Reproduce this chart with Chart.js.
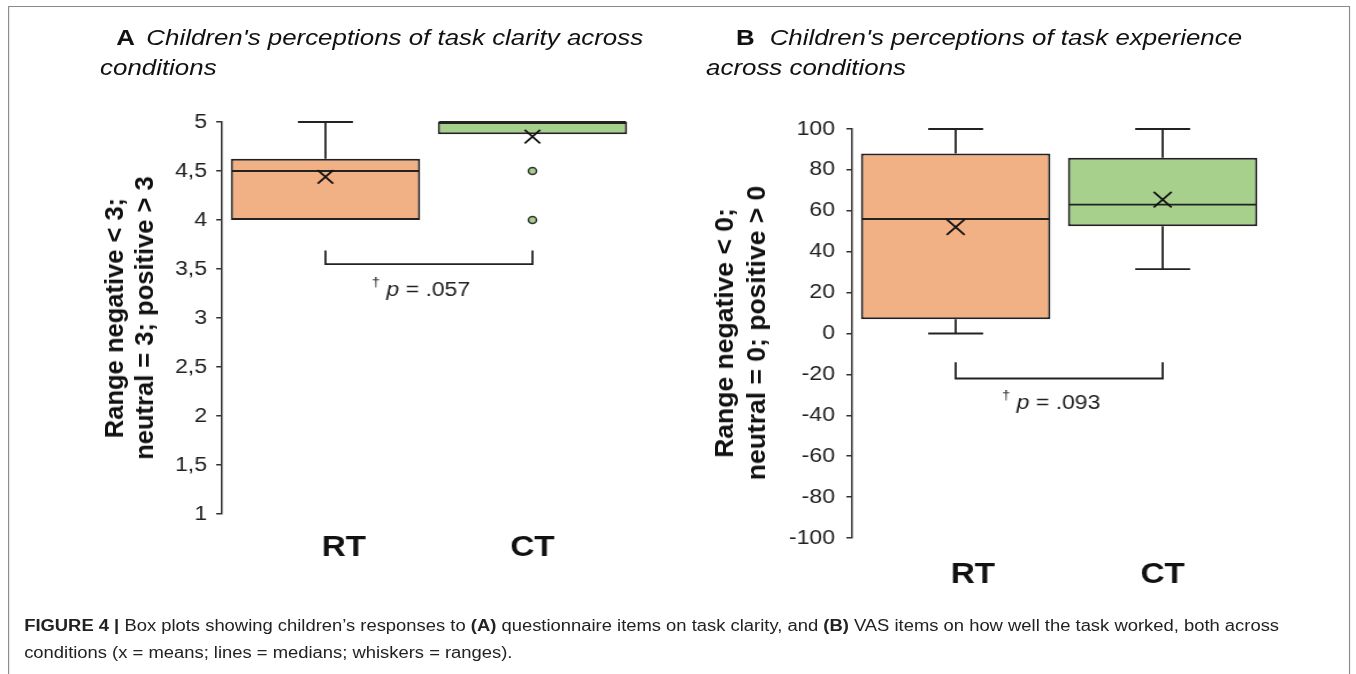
<!DOCTYPE html>
<html>
<head>
<meta charset="utf-8">
<script src="https://cdn.jsdelivr.net/npm/chart.js@4.4.1/dist/chart.umd.min.js"></script>
<style>
  body { margin: 0; background: #fff; font-family: "Liberation Sans", Arial, sans-serif; overflow: hidden; }
  /* the source figure is slightly stretched horizontally, so the whole page is drawn narrower and scaled */
  #page { position: absolute; left: 0; top: 0; width: 1179px; height: 674px; transform: scaleX(1.15); transform-origin: 0 0; }
  #frame { position: absolute; left: 7px; top: 6px; width: 1165px; height: 720px; border: 1.5px solid #8a8a8a; }
  .title { position: absolute; font-size: 22.5px; line-height: 30px; color: #111; font-style: italic; white-space: nowrap; }
  .title b { font-style: normal; }
  canvas { position: absolute; }
  #caption { position: absolute; left: 21px; top: 612px; font-size: 16px; line-height: 27px; color: #222; white-space: nowrap; }
  /* rotated axis titles are not stretched in the source, so they sit outside #page */
  .ytitle { position: absolute; transform: translate(-50%, -50%) rotate(-90deg); white-space: nowrap; text-align: center; font-weight: bold; color: #111; }
</style>
</head>
<body>
<div id="page">
<div id="frame"></div>
<div class="title" style="left:87px; top:23px;"><b style="margin-left:14px; margin-right:10px;">A</b>Children's perceptions of task clarity across<br>conditions</div>
<div class="title" style="left:614px; top:23px;"><b style="margin-left:26px; margin-right:13px;">B</b>Children's perceptions of task experience<br>across conditions</div>
<canvas id="chartA" width="530" height="480" style="left:50px; top:100px;"></canvas>
<canvas id="chartB" width="540" height="500" style="left:600px; top:100px;"></canvas>
<div id="caption"><b>FIGURE 4 |</b> Box plots showing children’s responses to <b>(A)</b> questionnaire items on task clarity, and <b>(B)</b> VAS items on how well the task worked, both across<br>conditions (x = means; lines = medians; whiskers = ranges).</div>
</div>
<div class="ytitle" style="left:129px; top:318px; font-size:25.5px; line-height:30px;">Range negative &lt; 3;<br>neutral = 3; positive &gt; 3</div>
<div class="ytitle" style="left:740px; top:333px; font-size:26.5px; line-height:32px;">Range negative &lt; 0;<br>neutral = 0; positive &gt; 0</div>

<script>
const groups = ["RT", "CT"];

// A: task clarity (1-5)
const clarityMin = [4, 4.875];
const clarityQ1 = [4, 4.875];
const clarityMedian = [4.5, 5];
const clarityQ3 = [4.625, 5];
const clarityMax = [5, 5];
const clarityMean = [4.44, 4.85];
const clarityOutliers = [
  { x: "CT", y: 4.5 },
  { x: "CT", y: 4 },
];

// B: task experience (-100..100)
const experienceMin = [0, 31.5];
const experienceQ1 = [7, 52.5];
const experienceMedian = [56, 63];
const experienceQ3 = [88, 86];
const experienceMax = [100, 100];
const experienceMean = [52, 65.5];
const experienceOutliers = [];

const boxColors = ["#f2b184", "#a7d08c"];
const ink = "#222";
const fontFamily = "'Liberation Sans', Arial, sans-serif";

function boxExtras(p) {
  return {
    id: "boxExtras",
    afterDatasetDraw(chart, args) {
      if (args.index !== 0) return;
      const y = chart.scales.y;
      const ctx = chart.ctx;
      ctx.save();
      ctx.strokeStyle = ink;
      ctx.lineWidth = 1.8;
      const seg = (x1, y1, x2, y2) => {
        ctx.beginPath();
        ctx.moveTo(x1, y1);
        ctx.lineTo(x2, y2);
        ctx.stroke();
      };
      args.meta.data.forEach((bar, i) => {
        const half = bar.width / 2;
        const cap = bar.width * 0.145;
        const yMed = y.getPixelForValue(p.median[i]);
        seg(bar.x - half + 1, yMed, bar.x + half - 1, yMed);
        if (p.max[i] > p.q3[i]) {
          const yT = y.getPixelForValue(p.max[i]);
          seg(bar.x, y.getPixelForValue(p.q3[i]), bar.x, yT);
          seg(bar.x - cap, yT, bar.x + cap, yT);
        }
        if (p.min[i] < p.q1[i]) {
          const yB = y.getPixelForValue(p.min[i]);
          seg(bar.x, y.getPixelForValue(p.q1[i]), bar.x, yB);
          seg(bar.x - cap, yB, bar.x + cap, yB);
        }
      });
      ctx.restore();
    },
    afterDraw(chart) {
      const x = chart.scales.x;
      const y = chart.scales.y;
      const ctx = chart.ctx;
      const b = p.bracket;
      const x1 = x.getPixelForValue(0);
      const x2 = x.getPixelForValue(1);
      const yTop = y.getPixelForValue(b.top);
      const yBot = y.getPixelForValue(b.bottom);
      ctx.save();
      ctx.strokeStyle = ink;
      ctx.lineWidth = 1.8;
      ctx.beginPath();
      ctx.moveTo(x1, yTop);
      ctx.lineTo(x1, yBot);
      ctx.lineTo(x2, yBot);
      ctx.lineTo(x2, yTop);
      ctx.stroke();

      // "† p = .057"
      const ty = y.getPixelForValue(b.text);
      const parts = [
        { t: "†", f: "13px " + fontFamily, dy: -8 },
        { t: " p", f: "italic 20px " + fontFamily, dy: 0 },
        { t: " = " + b.p, f: "20px " + fontFamily, dy: 0 },
      ];
      let total = 0;
      parts.forEach(pt => { ctx.font = pt.f; pt.w = ctx.measureText(pt.t).width; total += pt.w; });
      let cx = (x1 + x2) / 2 - total / 2 - 7;
      ctx.fillStyle = ink;
      ctx.textBaseline = "middle";
      ctx.textAlign = "left";
      parts.forEach(pt => {
        ctx.font = pt.f;
        ctx.fillText(pt.t, cx, ty + pt.dy);
        cx += pt.w;
      });

      // group names under the boxes (RT sits a little right of its box in the source)
      ctx.font = "bold 29px " + fontFamily;
      ctx.fillStyle = "#111";
      ctx.textAlign = "center";
      groups.forEach((g, i) => {
        ctx.fillText(g, x.getPixelForValue(i) + p.labelShift[i], chart.chartArea.bottom + p.labelGap);
      });
      ctx.restore();
    },
  };
}

function makeChart(id, p) {
  return new Chart(document.getElementById(id), {
    type: "bar",
    data: {
      labels: groups,
      datasets: [
        {
          data: groups.map((g, i) => [p.q1[i], p.q3[i]]),
          backgroundColor: boxColors,
          borderColor: ink,
          borderWidth: 2,
          borderSkipped: false,
          barPercentage: 0.915,
          categoryPercentage: 1,
          order: 3,
        },
        {
          type: "line",
          data: p.outliers,
          showLine: false,
          pointStyle: "circle",
          pointRadius: 3.5,
          pointBackgroundColor: boxColors[1],
          pointBorderColor: "#333",
          pointBorderWidth: 1.5,
          order: 2,
        },
        {
          type: "line",
          data: p.mean,
          showLine: false,
          pointStyle: "crossRot",
          pointRadius: p.markSize,
          pointBorderColor: "#111",
          pointBorderWidth: 1.8,
          order: 1,
        },
      ],
    },
    options: {
      responsive: false,
      animation: false,
      layout: { padding: p.padding },
      plugins: { legend: { display: false }, tooltip: { enabled: false } },
      scales: {
        x: {
          grid: { display: false, drawTicks: false },
          border: { display: false },
          ticks: { display: false },
          afterFit: s => { s.height = p.xHeight; },
        },
        y: {
          min: p.yMin,
          max: p.yMax,
          ticks: {
            stepSize: p.step,
            padding: p.yPad,
            color: ink,
            font: { family: fontFamily, size: 20 },
            callback: v => String(v).replace(".", ","),
          },
          grid: { drawOnChartArea: false, drawTicks: true, tickLength: 5, color: "#333", lineWidth: 1.5 },
          border: { display: true, color: "#333", width: 1.5 },
          afterFit: s => { s.width = p.yWidth; },
        },
      },
    },
    plugins: [boxExtras(p)],
  });
}

makeChart("chartA", {
  q1: clarityQ1, q3: clarityQ3, median: clarityMedian, min: clarityMin, max: clarityMax,
  mean: clarityMean, outliers: clarityOutliers,
  yMin: 1, yMax: 5, step: 0.5,
  padding: { left: 0, top: 22, right: 27, bottom: 0 },
  yWidth: 143, yPad: 8, xHeight: 66, markSize: 9.5,
  labelGap: 34, labelShift: [16, 0],
  bracket: { top: 3.69, bottom: 3.55, text: 3.28, p: ".057" },
});

makeChart("chartB", {
  q1: experienceQ1, q3: experienceQ3, median: experienceMedian, min: experienceMin, max: experienceMax,
  mean: experienceMean, outliers: experienceOutliers,
  yMin: -100, yMax: 100, step: 20,
  padding: { left: 0, top: 29, right: 39, bottom: 0 },
  yWidth: 141, yPad: 10, xHeight: 62, markSize: 11,
  labelGap: 37, labelShift: [15, 0],
  bracket: { top: -14, bottom: -22, text: -34, p: ".093" },
});
</script>
</body>
</html>
